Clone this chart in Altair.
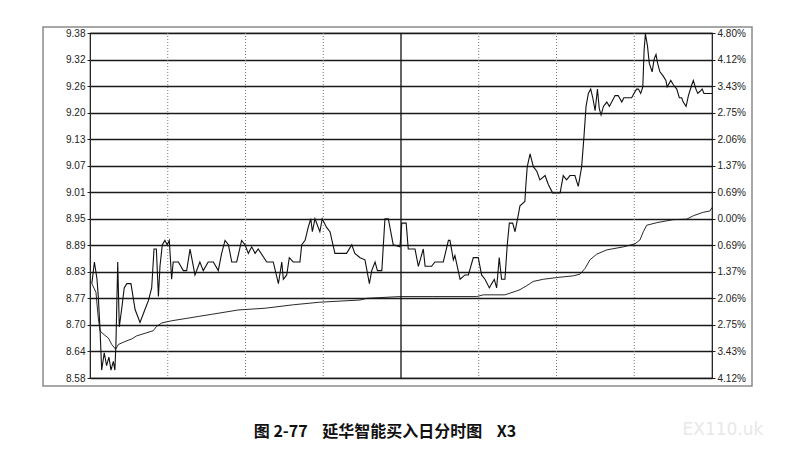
import altair as alt
import pandas as pd

# ---- data (minute of session, price) ----
price_min = [0.7, 1.7, 2.7, 3.2, 3.9, 4.5, 5.5, 6.4, 7.3, 8.1, 9.0, 9.6, 10.0, 10.7, 11.3, 12.2, 13.2, 14.2,
             15.8, 17.4, 19.3, 21.2, 22.5, 23.8, 24.7, 25.6, 26.4, 27.0, 27.9, 28.9, 29.8, 30.6, 31.5, 32.1,
             34.1, 36.0, 37.3, 38.6, 40.5, 42.4, 43.7, 45.6, 47.6, 49.5, 50.8, 52.1, 53.4, 54.7, 56.6, 58.5,
             59.8, 61.1, 62.4, 63.7, 64.9, 68.2, 70.7, 72.7, 74.0, 74.6, 75.9, 76.9, 78.4, 81.0, 81.7, 83.0,
             84.2, 85.2, 85.8, 86.8, 88.7, 89.6, 91.3, 92.6, 94.5, 99.0, 101.0, 102.2, 104.2, 106.1, 107.8,
             108.7, 110.0, 110.9, 112.6, 113.8, 115.1, 117.0, 119.6, 120.3, 122.0, 122.8, 125.4, 126.7, 128.6,
             129.3, 131.8, 133.1, 136.3, 138.3, 138.9, 140.2, 140.8, 142.8, 144.7, 146.0, 147.9, 149.8, 151.1,
             152.4, 154.1, 155.0, 156.0, 156.9, 157.9, 158.8, 160.1, 161.0, 161.8, 163.1, 164.0, 165.3, 165.9,
             167.8, 168.2, 168.7, 169.8, 171.1, 172.4, 173.6, 175.6, 176.8, 178.5, 181.4, 182.6, 183.9, 185.2,
             187.1, 188.4, 189.7, 190.6, 191.4, 192.3, 193.2, 194.0, 194.9, 195.8, 196.5, 197.2, 198.1, 199.4,
             200.4, 201.3, 202.6, 203.8, 205.2, 206.0, 209.0, 209.9, 210.9, 211.6, 212.5, 213.3, 213.8, 214.3,
             215.1, 215.8, 216.9, 217.7, 218.4, 219.0, 219.9, 221.2, 222.2, 222.7, 224.1, 225.1, 226.4, 227.4,
             228.3, 228.9, 230.0, 230.9, 232.2, 232.8, 233.8, 234.5, 235.4, 236.2, 236.9, 240.0]
price_val = [8.80, 8.85, 8.81, 8.77, 8.69, 8.60, 8.64, 8.61, 8.63, 8.60, 8.62, 8.60, 8.66, 8.85, 8.70, 8.74, 8.79, 8.80,
             8.80, 8.74, 8.71, 8.74, 8.76, 8.79, 8.88, 8.88, 8.77, 8.84, 8.89, 8.90, 8.89, 8.90, 8.81, 8.85,
             8.85, 8.83, 8.83, 8.88, 8.82, 8.85, 8.83, 8.85, 8.85, 8.83, 8.87, 8.90, 8.89, 8.85, 8.85, 8.90,
             8.89, 8.87, 8.885, 8.87, 8.88, 8.85, 8.85, 8.80, 8.85, 8.81, 8.82, 8.86, 8.85, 8.85, 8.89, 8.90,
             8.93, 8.95, 8.92, 8.95, 8.92, 8.95, 8.93, 8.92, 8.87, 8.87, 8.89, 8.87, 8.86, 8.855, 8.80,
             8.83, 8.85, 8.83, 8.83, 8.95, 8.95, 8.89, 8.885, 8.94, 8.94, 8.88, 8.88, 8.84, 8.88,
             8.84, 8.84, 8.85, 8.85, 8.90, 8.90, 8.855, 8.865, 8.81, 8.82, 8.82, 8.86, 8.86, 8.82,
             8.81, 8.79, 8.80, 8.81, 8.79, 8.86, 8.81, 8.81, 8.89, 8.94, 8.94, 8.92, 8.96, 8.98,
             8.99, 9.03, 9.07, 9.10, 9.07, 9.06, 9.04, 9.05, 9.03, 9.01, 9.01, 9.05, 9.04, 9.05,
             9.05, 9.025, 9.07, 9.14, 9.21, 9.24, 9.25, 9.23, 9.20, 9.25, 9.205, 9.19, 9.21, 9.22,
             9.21, 9.22, 9.235, 9.235, 9.22, 9.23, 9.23, 9.24, 9.25, 9.25, 9.24, 9.255, 9.34, 9.378,
             9.35, 9.31, 9.29, 9.32, 9.33, 9.31, 9.29, 9.28, 9.27, 9.255, 9.27, 9.26, 9.25, 9.23,
             9.23, 9.22, 9.21, 9.235, 9.26, 9.27, 9.25, 9.24, 9.245, 9.25, 9.24, 9.24]

avg_min = [0.7, 2.3, 3.2, 3.9, 5.8, 7.1, 8.4, 9.9, 10.9, 13.5, 16.1, 18.0, 21.2, 24.4, 25.7, 27.7, 31.5, 36.7,
           41.8, 47.0, 52.1, 57.2, 67.5, 78.4, 88.7, 104.2, 106.8, 119.6, 132.3, 149.2, 151.8, 160.1, 162.1,
           164.6, 165.9, 168.5, 171.0, 174.9, 180.1, 186.5, 189.1, 191.0, 192.9, 195.5, 199.4, 205.8, 210.3,
           212.2, 213.5, 214.8, 218.7, 225.1, 230.2, 232.8, 236.6, 239.2, 240.0]
avg_val = [8.80, 8.78, 8.72, 8.69, 8.68, 8.674, 8.659, 8.648, 8.659, 8.666, 8.672, 8.679, 8.685, 8.691, 8.701,
           8.709, 8.714, 8.719, 8.724, 8.729, 8.734, 8.739, 8.743, 8.751, 8.757, 8.762, 8.766, 8.770, 8.770,
           8.770, 8.774, 8.774, 8.778, 8.783, 8.786, 8.795, 8.805, 8.810, 8.814, 8.818, 8.822, 8.835, 8.855,
           8.868, 8.878, 8.885, 8.892, 8.901, 8.920, 8.935, 8.941, 8.948, 8.949, 8.957, 8.965, 8.968, 8.976]

y_ticks = [8.5816, 8.6430, 8.7044, 8.7658, 8.8272, 8.8886, 8.9500, 9.0114, 9.0728, 9.1342, 9.1956,
           9.2570, 9.3184, 9.3798]
left_labels = ["8.58", "8.64", "8.70", "8.77", "8.83", "8.89", "8.95", "9.01", "9.07", "9.13", "9.20",
               "9.26", "9.32", "9.38"]
right_labels = ["4.12%", "3.43%", "2.75%", "2.06%", "1.37%", "0.69%", "0.00%", "0.69%", "1.37%", "2.06%",
                "2.75%", "3.43%", "4.12%", "4.80%"]
dotted_minutes = [30, 60, 90, 150, 180, 210]
noon_minutes = [120]
title_text = "图 2-77\u00a0\u00a0\u00a0\u00a0延华智能买入日分时图\u00a0\u00a0\u00a0\u00a0X3"
watermark_text = "EX110.uk"

# ---- chart ----
step = y_ticks[1] - y_ticks[0]


def label_expr(labels):
    arr = "[" + ",".join("'" + s + "'" for s in labels) + "]"
    return arr + "[round((datum.value - %.4f) / %.4f)]" % (y_ticks[0], step)


price_df = pd.DataFrame({"m": price_min, "p": price_val})
avg_df = pd.DataFrame({"m": avg_min, "p": avg_val})

xscale = alt.Scale(domain=[0, 240], nice=False, zero=False)
yscale = alt.Scale(domain=[y_ticks[0], y_ticks[-1]], nice=False, zero=False)

axis_common = dict(values=y_ticks, domain=False, ticks=True, tickSize=3, tickColor="#222",
                   labelFont="Liberation Sans", labelFontSize=10, labelColor="#222",
                   labelPadding=2, title=None)

dotted = alt.Chart(pd.DataFrame({"m": dotted_minutes})).mark_rule(
    color="#777", strokeWidth=1, strokeDash=[1, 2]
).encode(x=alt.X("m:Q", scale=xscale, axis=None))

noon = alt.Chart(pd.DataFrame({"m": noon_minutes})).mark_rule(
    color="#111", strokeWidth=1.3
).encode(x=alt.X("m:Q", scale=xscale, axis=None))

price_line = alt.Chart(price_df).mark_line(color="#111", strokeWidth=1.1).encode(
    x=alt.X("m:Q", scale=xscale, axis=None),
    y=alt.Y("p:Q", scale=yscale,
            axis=alt.Axis(orient="left", grid=True, gridColor="#1a1a1a", gridWidth=1.3,
                          labelExpr=label_expr(left_labels), **axis_common)),
)

avg_line = alt.Chart(avg_df).mark_line(color="#111", strokeWidth=0.9).encode(
    x=alt.X("m:Q", scale=xscale, axis=None),
    y=alt.Y("p:Q", scale=yscale,
            axis=alt.Axis(orient="right", grid=False,
                          labelExpr=label_expr(right_labels), **axis_common)),
)

frame = alt.Chart(pd.DataFrame({"k": [0]})).mark_rect(
    fill=None, fillOpacity=0, stroke="#8a8a8a", strokeWidth=1.5
).encode(x=alt.value(-47), x2=alt.value(662), y=alt.value(-6), y2=alt.value(353))

title = alt.Chart(pd.DataFrame({"t": [title_text]})).mark_text(
    font="Noto Sans CJK SC", fontSize=16, fontWeight="bold", color="#111",
    align="center", baseline="middle"
).encode(text="t:N", x=alt.value(295), y=alt.value(399))

watermark = alt.Chart(pd.DataFrame({"t": [watermark_text]})).mark_text(
    font="DejaVu Sans", fontSize=17, color="#e8e8e8", align="center", baseline="middle"
).encode(text="t:N", x=alt.value(633), y=alt.value(397))

chart = alt.layer(dotted, noon, price_line, avg_line, frame, title, watermark).resolve_scale(
    y="independent"
).properties(
    width=622, height=345,
    autosize=alt.AutoSizeParams(type="none"),
    padding={"left": 82, "top": 25, "right": 76, "bottom": 63},
    background="white",
).configure_view(stroke="#111", strokeWidth=1.2)

chart.save("out.html", embed_options={"renderer": "svg", "actions": False})
